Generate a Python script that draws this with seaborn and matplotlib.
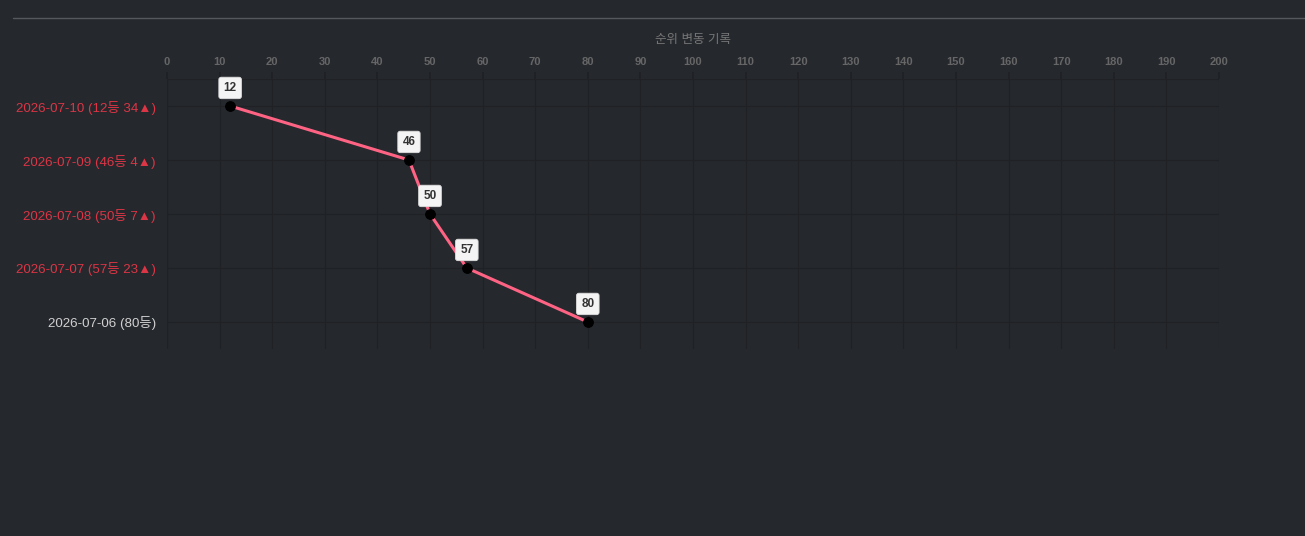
import numpy as np
import pandas as pd
import matplotlib
matplotlib.use("Agg")
import matplotlib.pyplot as plt
from matplotlib.lines import Line2D
import seaborn as sns

# dados do gráfico
datas = ["2026-07-10", "2026-07-09", "2026-07-08", "2026-07-07", "2026-07-06"]
ranks = [12, 46, 50, 57, 80]
mudancas = [34, 4, 7, 23, None]
titulo = "순위 변동 기록"
x_ticks = list(range(0, 201, 10))

bg = "#25282d"
grid_c = "#1f2125"
fontes = ["Liberation Sans", "Noto Sans CJK KR", "DejaVu Sans"]

sns.set_theme(style="dark")
plt.rcParams["font.family"] = fontes

rotulos = []
cores = []
for d, r, m in zip(datas, ranks, mudancas):
    if m is None:
        rotulos.append(f"{d} ({r}등)")
        cores.append("#d0d0d0")
    else:
        rotulos.append(f"{d} ({r}등 {m}▲)")
        cores.append("#dc3545")

df = pd.DataFrame({"rank": ranks, "pos": np.arange(len(datas))})

fig = plt.figure(figsize=(13.05, 5.36), dpi=100, facecolor=bg)
ax = fig.add_axes([167 / 1305, 1 - 349 / 536, (1219 - 167) / 1305, 270 / 536])
ax.set_facecolor(bg)

sns.lineplot(data=df, x="rank", y="pos", sort=False, orient="y", ax=ax,
             color="#ff6384", linewidth=2.2, marker="o", markersize=7,
             markerfacecolor="black", markeredgecolor="black", zorder=3)

# rótulos dos pontos
for r, p in zip(df["rank"], df["pos"]):
    ax.annotate(str(r), (r, p), xytext=(0, 13), textcoords="offset points",
                ha="center", va="center", fontsize=8.5, fontweight="bold",
                color="#333333", zorder=5,
                bbox=dict(boxstyle="round,pad=0.4,rounding_size=0.2",
                          fc="#f4f4f4", ec="#dddddd", lw=0.6))

ax.set_xlim(0, 200)
ax.set_ylim(len(datas) - 0.5, -0.5)
ax.xaxis.tick_top()
ax.set_xticks(x_ticks)
ax.set_xticklabels([str(t) for t in x_ticks], fontsize=8, fontweight="bold",
                   color="#666666")
ax.set_yticks(df["pos"])
ax.set_yticklabels(rotulos, fontsize=9.6)
for lbl, c in zip(ax.get_yticklabels(), cores):
    lbl.set_color(c)
ax.tick_params(axis="x", length=5, color=grid_c, pad=4, top=True, bottom=False)
ax.tick_params(axis="y", length=0, pad=8)
ax.set_xlabel("")
ax.set_ylabel("")
ax.grid(True, color=grid_c, linewidth=0.8)
for s in ax.spines.values():
    s.set_visible(False)
ax.axhline(-0.5, color=grid_c, linewidth=0.8)
ax.axvline(0, color=grid_c, linewidth=0.8)

fig.text((167 + 1219) / 2 / 1305, 1 - 39.5 / 536, titulo, ha="center", va="center",
         fontsize=9, color="#777777")
fig.add_artist(Line2D([13 / 1305, 1], [1 - 18 / 536, 1 - 18 / 536],
                      color="#55585d", linewidth=1))

fig.savefig("out.png", dpi=100, facecolor=bg)
